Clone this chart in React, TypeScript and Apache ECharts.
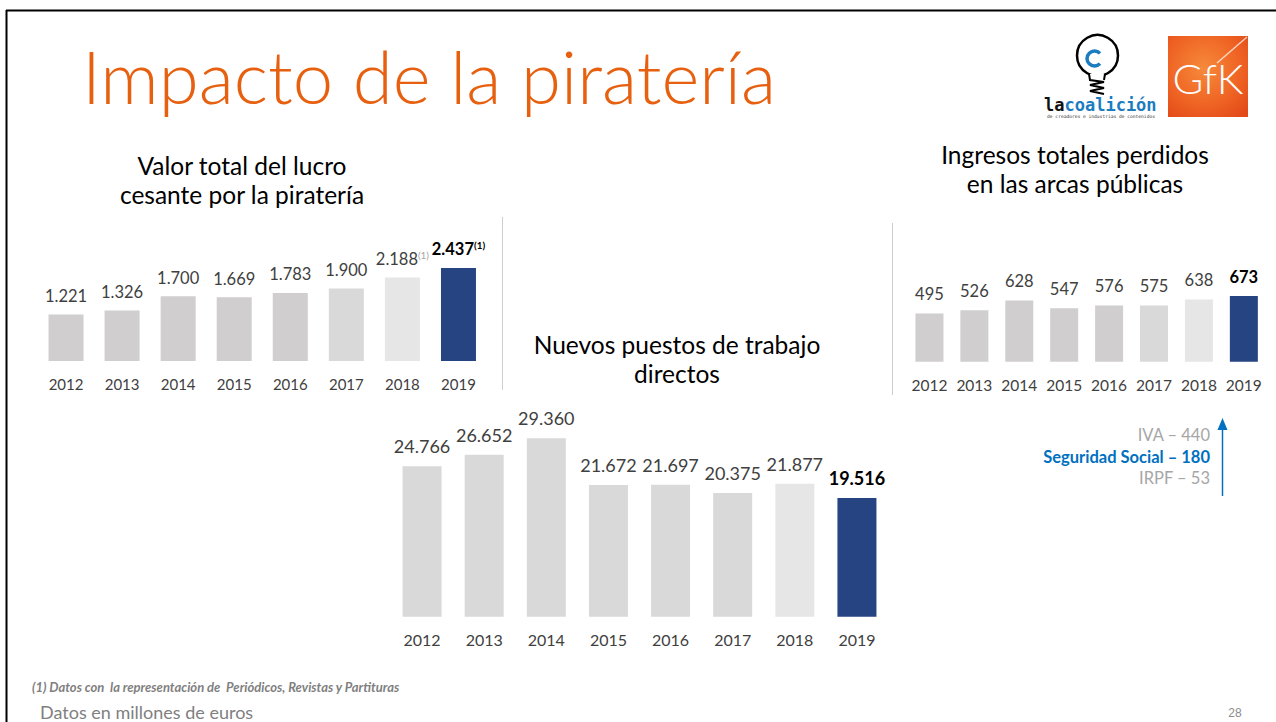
import React, { useEffect, useRef } from "react";
import * as echarts from "echarts";

const years = ["2012", "2013", "2014", "2015", "2016", "2017", "2018", "2019"];
const lucroValues = [1221, 1326, 1700, 1669, 1783, 1900, 2188, 2437];
const lucroNotes = ["", "", "", "", "", "", "(1)", "(1)"];
const empleoValues = [24766, 26652, 29360, 21672, 21697, 20375, 21877, 19516];
const ingresosValues = [495, 526, 628, 547, 576, 575, 638, 673];
const lucroColors = ["#D0CECE", "#D0CECE", "#D0CECE", "#D0CECE", "#D0CECE", "#D9D9D9", "#E7E6E6", "#264382"];
const empleoColors = ["#D9D9D9", "#D9D9D9", "#D9D9D9", "#D9D9D9", "#D9D9D9", "#D9D9D9", "#E7E6E6", "#264382"];
const ingresosColors = ["#D0CECE", "#D0CECE", "#D0CECE", "#D0CECE", "#D0CECE", "#D9D9D9", "#E7E6E6", "#264382"];
const desgloseLabels = ["IVA", "Seguridad Social", "IRPF"];
const desgloseValues = [440, 180, 53];
const lucroTitle = ["Valor total del lucro", "cesante por la piratería"];
const empleoTitle = ["Nuevos puestos de trabajo", "directos"];
const ingresosTitle = ["Ingresos totales perdidos", "en las arcas públicas"];

const FONT = "Lato, 'Open Sans', sans-serif";
const fmt = (v: number) => String(v).replace(/\B(?=(\d{3})+(?!\d))/g, ".");

export default function App() {
  const ref = useRef<HTMLDivElement>(null);
  useEffect(() => {
    if (!ref.current) return;
    const chart = echarts.init(ref.current, null, { renderer: "svg" });
    const last = years.length - 1;

    const makeData = (vals: number[], colors: string[]) =>
      vals.map((v, i) => ({ value: v, itemStyle: { color: colors[i] } }));

    const labelRich = (size: number) => ({
      n: { fontSize: size, color: "#404040", fontFamily: FONT },
      b: { fontSize: size, color: "#000000", fontWeight: "bold", fontFamily: FONT },
      sn: { fontSize: size * 0.6, color: "#A6A6A6", fontFamily: FONT, verticalAlign: "top", padding: [0, 0, 8, 0] },
      sb: { fontSize: size * 0.6, color: "#000000", fontWeight: "bold", fontFamily: FONT, verticalAlign: "top", padding: [0, 0, 8, 0] },
    });

    const fmtLabel = (notes: string[] | null) => (p: any) => {
      const i = p.dataIndex;
      const key = i === last ? "b" : "n";
      const note = notes ? notes[i] : "";
      let s = `{${key}|${fmt(p.value)}}`;
      if (note) s += `{s${key}|${note}}`;
      return s;
    };

    const catAxis = (gi: number, size: number, margin: number) => ({
      type: "category",
      gridIndex: gi,
      data: years,
      axisLine: { show: false },
      axisTick: { show: false },
      axisLabel: { color: "#404040", fontSize: size, fontFamily: FONT, margin, interval: 0 },
    });
    const valAxis = (gi: number) => ({
      type: "value",
      gridIndex: gi,
      min: 0,
      max: (e: any) => e.max,
      show: false,
      splitLine: { show: false },
    });

    const titleLines = (lines: string[], cx: number, y0: number) =>
      lines.map((t, i) => ({
        type: "text", x: cx, y: y0 + i * 29,
        style: { text: t, fill: "#000", fontSize: 24.5, fontFamily: FONT, align: "center", verticalAlign: "middle" },
      }));

    const graphics: any[] = [
      // frame
      { type: "line", shape: { x1: 6, y1: 10.5, x2: 1276, y2: 10.5 }, style: { stroke: "#000", lineWidth: 2 } },
      { type: "line", shape: { x1: 6.5, y1: 10, x2: 6.5, y2: 722 }, style: { stroke: "#000", lineWidth: 2 } },
      // title
      {
        type: "text", x: 82, y: 75,
        style: { text: "Impacto de la piratería", fill: "#E6600F", fontSize: 72.5, fontFamily: FONT, fontWeight: 300, verticalAlign: "middle", align: "left" },
      },
      ...titleLines(lucroTitle, 242, 165),
      ...titleLines(empleoTitle, 677, 344),
      ...titleLines(ingresosTitle, 1075, 154),
      // separators
      { type: "line", shape: { x1: 502.5, y1: 217, x2: 502.5, y2: 390 }, style: { stroke: "#D0CECE", lineWidth: 1 } },
      { type: "line", shape: { x1: 892.5, y1: 223, x2: 892.5, y2: 395 }, style: { stroke: "#D0CECE", lineWidth: 1 } },
      // breakdown
      ...desgloseLabels.map((l, i) => ({
        type: "text", x: 1210, y: 435 + i * 21.7,
        style: {
          text: `${l} – ${desgloseValues[i]}`,
          fill: i === 1 ? "#0070C0" : "#A6A6A6",
          fontWeight: i === 1 ? "bold" : "normal",
          fontSize: 16.5, fontFamily: FONT, align: "right", verticalAlign: "middle",
        },
      })),
      { type: "line", shape: { x1: 1222.5, y1: 496, x2: 1222.5, y2: 428 }, style: { stroke: "#0070C0", lineWidth: 1.5 } },
      { type: "polygon", shape: { points: [[1222.5, 418], [1217.5, 430], [1227.5, 430]] }, style: { fill: "#0070C0" } },
      // footnotes
      {
        type: "text", x: 32, y: 687,
        style: { text: "(1) Datos con  la representación de  Periódicos, Revistas y Partituras", fill: "#7F7F7F", fontSize: 13, fontStyle: "italic", fontWeight: "bold", fontFamily: FONT, verticalAlign: "middle" },
      },
      {
        type: "text", x: 40, y: 712,
        style: { text: "Datos en millones de euros", fill: "#7F7F7F", fontSize: 18, fontFamily: FONT, verticalAlign: "middle" },
      },
      {
        type: "text", x: 1235, y: 713,
        style: { text: "28", fill: "#8C8C8C", fontSize: 12, fontFamily: "'Liberation Sans', sans-serif", align: "center", verticalAlign: "middle" },
      },
      // lacoalicion logo
      { type: "circle", shape: { cx: 1097.5, cy: 55.5, r: 20.5 }, style: { fill: "none", stroke: "#000", lineWidth: 2.5 } },
      { type: "arc", shape: { cx: 1094.5, cy: 58.5, r: 7.5, startAngle: 0.75, endAngle: Math.PI * 2 - 0.75 }, style: { stroke: "#1B7CC0", lineWidth: 3.5, fill: "none" } },
      { type: "rect", shape: { x: 1089, y: 74, width: 16, height: 6 }, style: { fill: "#fff" } },
      { type: "polyline", shape: { points: [[1089, 74], [1090, 80], [1104, 82], [1090, 85], [1104, 88], [1090, 91], [1104, 94]] }, style: { stroke: "#000", lineWidth: 2, fill: "none" } },
      { type: "line", shape: { x1: 1105, y1: 74, x2: 1104, y2: 80 }, style: { stroke: "#000", lineWidth: 2 } },
      {
        type: "text", x: 1044, y: 105,
        style: {
          text: "{a|la}{b|coalición}", verticalAlign: "middle",
          rich: {
            a: { fill: "#111", fontSize: 17, fontWeight: "bold", fontFamily: "'DejaVu Sans Mono', monospace" },
            b: { fill: "#1B7CC0", fontSize: 17, fontWeight: "bold", fontFamily: "'DejaVu Sans Mono', monospace" },
          },
        },
      },
      {
        type: "text", x: 1101, y: 116,
        style: { text: "de creadores e industrias de contenidos", fill: "#333", fontSize: 4.6, fontFamily: "'DejaVu Sans Mono', monospace", align: "center", verticalAlign: "middle" },
      },
      // GfK logo
      {
        type: "rect", shape: { x: 1168, y: 36, width: 80, height: 81 },
        style: {
          fill: new echarts.graphic.RadialGradient(0.45, 0.4, 0.75, [
            { offset: 0, color: "#F68A3A" },
            { offset: 0.6, color: "#EF6424" },
            { offset: 1, color: "#E24A18" },
          ]),
        },
      },
      { type: "line", shape: { x1: 1217, y1: 63, x2: 1247, y2: 37 }, style: { stroke: "rgba(255,255,255,0.7)", lineWidth: 1.5 } },
      {
        type: "text", x: 1208, y: 78,
        style: { text: "GfK", fill: "#fff", fontSize: 42, fontWeight: 300, fontFamily: FONT, align: "center", verticalAlign: "middle" },
      },
    ];

    chart.setOption({
      animation: false,
      backgroundColor: "#ffffff",
      grid: [
        { left: 38, width: 448.5, top: 268, height: 93 },
        { left: 391, width: 497, top: 438.3, height: 178.4 },
        { left: 907, width: 359.3, top: 296, height: 65.7 },
      ],
      xAxis: [catAxis(0, 15, 15.5), catAxis(1, 16, 15), catAxis(2, 15.5, 15.5)],
      yAxis: [valAxis(0), valAxis(1), valAxis(2)],
      series: [
        {
          type: "bar", xAxisIndex: 0, yAxisIndex: 0, barWidth: 35,
          data: makeData(lucroValues, lucroColors),
          label: { show: true, position: "top", distance: 10, formatter: fmtLabel(lucroNotes), rich: labelRich(16.5) },
        },
        {
          type: "bar", xAxisIndex: 1, yAxisIndex: 1, barWidth: 39,
          data: makeData(empleoValues, empleoColors),
          label: { show: true, position: "top", distance: 11, formatter: fmtLabel(null), rich: labelRich(18) },
        },
        {
          type: "bar", xAxisIndex: 2, yAxisIndex: 2, barWidth: 28,
          data: makeData(ingresosValues, ingresosColors),
          label: { show: true, position: "top", distance: 11, formatter: fmtLabel(null), rich: labelRich(16.5) },
        },
      ],
      graphic: graphics,
    });
    return () => chart.dispose();
  }, []);
  return (
    <div
      ref={ref}
      style={{ position: "absolute", left: 0, top: 0, width: 1276, height: 722, background: "#fff" }}
    />
  );
}
